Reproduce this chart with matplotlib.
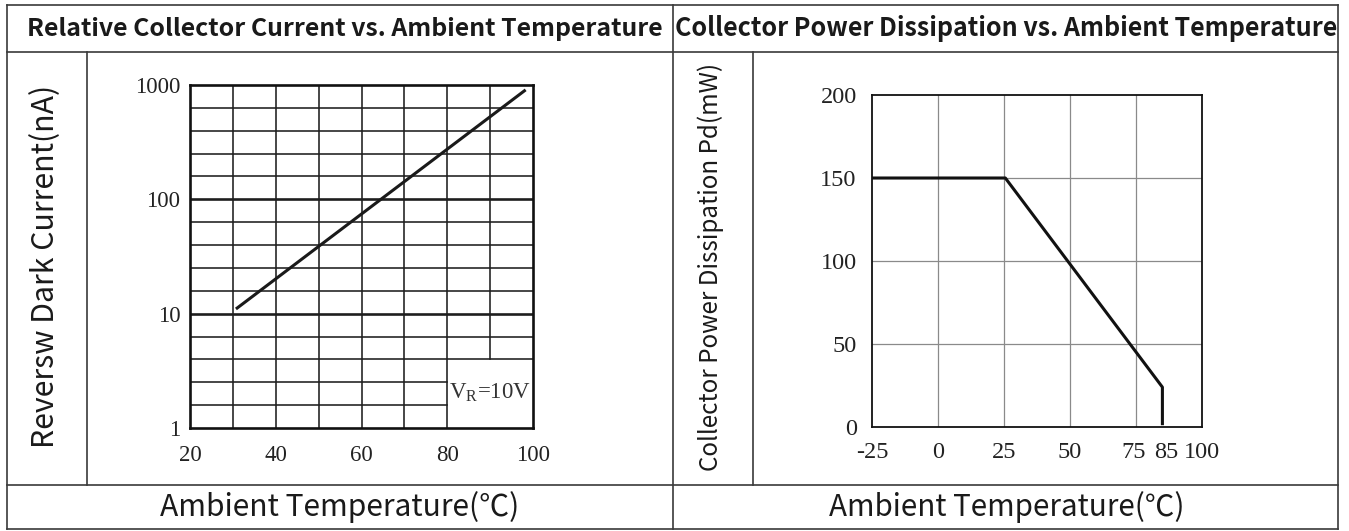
import numpy as np
import matplotlib
matplotlib.use("Agg")
import matplotlib.pyplot as plt
import matplotlib.transforms as mtransforms
from matplotlib.lines import Line2D

# ---------------- data ----------------
left_temp = [31, 98]
left_dark_current = [11.2, 890]
left_xticks = [20, 40, 60, 80, 100]
left_yticks = [1, 10, 100, 1000]
left_ytick_labels = ["1", "10", "100", "1000"]

right_temp = [-25, 25.5, 85, 85]
right_power = [150, 150, 24, 2]
right_xticks = [-25, 0, 25, 50, 75, 85, 100]
right_yticks = [0, 50, 100, 150, 200]

title_left = "Relative Collector Current vs. Ambient Temperature"
title_right = "Collector Power Dissipation vs. Ambient Temperature"
ylabel_left = "Reversw Dark Current(nA)"
ylabel_right = "Collector Power Dissipation Pd(mW)"
xlabel = "Ambient Temperature(\u2103)"
note_left = r"V$_{\mathrm{R}}$=10V"

W, H = 1349, 531
plt.rcParams['mathtext.fontset'] = 'custom'
plt.rcParams['mathtext.rm'] = 'Liberation Serif'
plt.rcParams['axes.unicode_minus'] = False
fig = plt.figure(figsize=(W / 100, H / 100), dpi=100)
fig.patch.set_facecolor("white")

SANS = ['Noto Sans CJK SC', 'DejaVu Sans']
SERIF = ['Liberation Serif', 'DejaVu Serif']
TXT = '#1a1a1a'


def fx(x):
    return x / W


def fy(y):
    return 1 - y / H


# ---------------- table lines ----------------
line_kw = dict(color='#3a3a3a', lw=1.2, transform=fig.transFigure, solid_capstyle='projecting')
L, R, T, B = 7, 1338, 5, 529
for (x0, y0, x1, y1) in [
    (L, T, R, T), (L, B, R, B), (L, T, L, B), (R, T, R, B),
    (L, 52, R, 52), (L, 485, R, 485),
    (673, T, 673, B), (87, 52, 87, 485), (753, 52, 753, 485)]:
    fig.add_artist(Line2D([fx(x0), fx(x1)], [fy(y0), fy(y1)], **line_kw))

# ---------------- texts ----------------
t1 = fig.text(fx(345), fy(29), title_left, ha='center', va='center', fontsize=16,
              fontweight='bold', family=SANS, color=TXT)
t2 = fig.text(fx(1006), fy(29), title_right, ha='center', va='center', fontsize=16,
              fontweight='bold', family=SANS, color=TXT)
t3 = fig.text(fx(340), fy(507), xlabel, ha='center', va='center', fontsize=16,
              family=SANS, color=TXT)
t4 = fig.text(fx(1007), fy(507), xlabel, ha='center', va='center', fontsize=16,
              family=SANS, color=TXT)
t5 = fig.text(fx(46), fy(266), ylabel_left, ha='center', va='center', fontsize=16,
              rotation=90, family=SANS, color=TXT)
t6 = fig.text(fx(711), fy(267), ylabel_right, ha='center', va='center', fontsize=16,
              rotation=90, family=SANS, color=TXT)
targets = [(t1, 635, False), (t2, 662, False), (t3, 360, False), (t4, 355, False),
           (t5, 363, True), (t6, 408, True)]

# ---------------- left chart ----------------
axL = fig.add_axes([fx(190), fy(428), 343 / W, 343 / H])
axL.set_yscale('log')
axL.set_xlim(20, 100)
axL.set_ylim(1, 1000)
axL.set_xticks(left_xticks)
axL.set_yticks(left_yticks)
axL.set_yticklabels(left_ytick_labels)
axL.yaxis.set_minor_locator(matplotlib.ticker.NullLocator())
axL.tick_params(length=0, labelsize=16.5, labelcolor='#222', pad=7)
axL.tick_params(axis='x', pad=12)
for lab in axL.get_xticklabels() + axL.get_yticklabels():
    lab.set_family(SERIF)
for s in axL.spines.values():
    s.set_linewidth(1.9)
    s.set_color('#111')

gcol = '#1e1e1e'
for xv in range(30, 100, 10):
    ymin = 10 ** 0.6 if xv == 90 else 1
    axL.plot([xv, xv], [ymin, 1000], color=gcol, lw=1.15, zorder=1)
for dec in range(3):
    for j in range(5):
        e = round(dec + j * 0.2, 1)
        if e == 0:
            continue
        yv = 10 ** e
        xmax = 80 if e in (0.2, 0.4) else 100
        lw = 1.9 if j == 0 else 1.15
        axL.plot([20, xmax], [yv, yv], color=gcol, lw=lw, zorder=1)
axL.plot(left_temp, left_dark_current, color='#1a1a1a', lw=2.2, zorder=3)
axL.text(90, 2.05, note_left, ha='center', va='center', fontsize=16.5, color='#333',
         family=SERIF, zorder=4)

# ---------------- right chart ----------------
axR = fig.add_axes([fx(872), fy(427), 330 / W, 332 / H])
axR.set_xlim(-25, 100)
axR.set_ylim(0, 200)
axR.set_xticks(right_xticks)
axR.set_yticks(right_yticks)
axR.tick_params(length=0, labelsize=17.5, labelcolor='#222', pad=11)
for lab in axR.get_xticklabels() + axR.get_yticklabels():
    lab.set_family(SERIF)
# nudge the crowded 75 / 85 labels apart
xlabs = axR.get_xticklabels()
xlabs[4].set_transform(xlabs[4].get_transform() +
                       mtransforms.ScaledTranslation(-2 / 100, 0, fig.dpi_scale_trans))
xlabs[5].set_transform(xlabs[5].get_transform() +
                       mtransforms.ScaledTranslation(4 / 100, 0, fig.dpi_scale_trans))
for s in axR.spines.values():
    s.set_linewidth(1.3)
    s.set_color('#111')
for xv in [0, 25, 50, 75]:
    axR.axvline(xv, color='#8a8a8a', lw=0.9, zorder=1)
for yv in [50, 100, 150]:
    axR.axhline(yv, color='#8a8a8a', lw=0.9, zorder=1)
axR.plot(right_temp, right_power, color='#111', lw=2.2, zorder=3)

# ---------------- fit text sizes ----------------
fig.canvas.draw()
r = fig.canvas.get_renderer()
for t, target, rot in targets:
    bb = t.get_window_extent(r)
    cur = bb.height if rot else bb.width
    t.set_fontsize(t.get_fontsize() * target / cur)

fig.savefig("out.png", dpi=100, facecolor='white')
